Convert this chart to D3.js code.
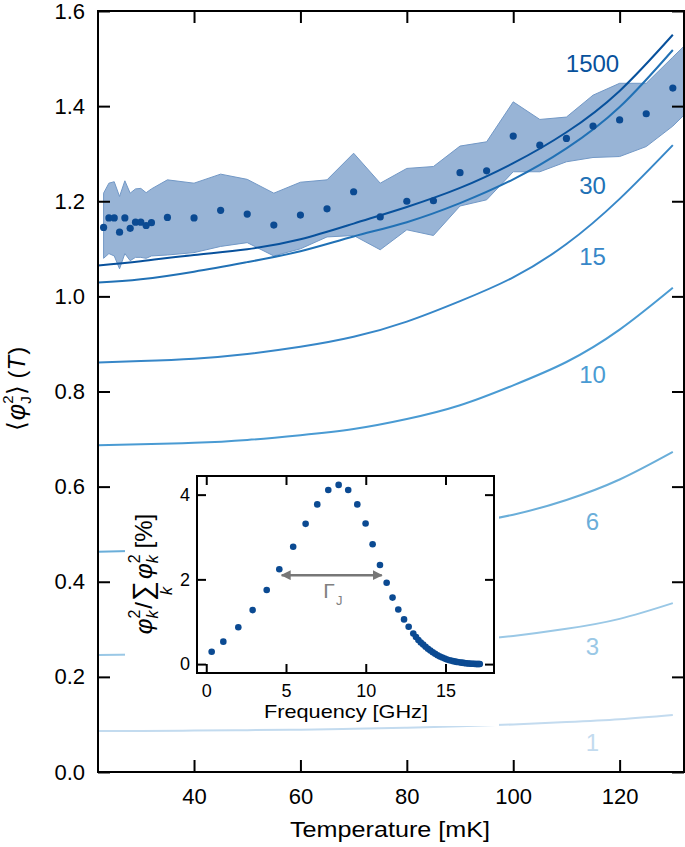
<!DOCTYPE html>
<html><head><meta charset="utf-8">
<script src="https://cdn.jsdelivr.net/npm/d3@7"></script>
<style>
body{margin:0;background:#fff}
text{font-family:"Liberation Sans",Arial,Helvetica,sans-serif}
</style>
</head><body>
<svg id="c" width="685" height="847"></svg>
<script>
// ---------- data ----------
const curveT = [22,30,40,50,60,70,80,90,100,110,120,130];
const curve1500 = [1.065,1.074,1.087,1.099,1.12,1.153,1.188,1.228,1.28,1.345,1.432,1.55];
const curve30   = [1.029,1.036,1.052,1.072,1.095,1.126,1.156,1.196,1.246,1.311,1.398,1.518];
const curve15   = [0.861,0.864,0.869,0.879,0.894,0.915,0.947,0.99,1.04,1.11,1.205,1.318];
const curve10   = [0.687,0.689,0.692,0.698,0.708,0.721,0.742,0.771,0.813,0.862,0.93,1.018];
const curve6    = [0.463,0.465,0.468,0.473,0.48,0.49,0.504,0.521,0.541,0.572,0.615,0.673];
const curve3    = [0.246,0.247,0.249,0.252,0.256,0.261,0.267,0.275,0.286,0.301,0.322,0.355];
const curve1    = [0.086,0.086,0.087,0.088,0.089,0.091,0.093,0.096,0.1,0.105,0.111,0.12];
const curveNames = ["1500","30","15","10","6","3","1"];
const curveLabelVal = [1.489,1.234,1.083,0.835,0.526,0.263,0.063];
const curveLabelT = 114.9;

const dataT = [23,24,25,26,27,28,29,30,31,32,35,40,45,50,55,60,65,70,75,80,85,90,95,100,105,110,115,120,125,130];
const dataMean = [1.145,1.165,1.165,1.135,1.165,1.143,1.156,1.156,1.149,1.155,1.166,1.165,1.181,1.173,1.150,1.171,1.184,1.220,1.167,1.200,1.201,1.260,1.264,1.337,1.318,1.332,1.358,1.371,1.384,1.438];
const bandT = [23,24,25,26,27,28,29,30,31,32,35,40,45,50,55,60,65,70,75,80,85,90,95,100,105,110,115,120,125,130,132];
const bandUpper = [1.217,1.238,1.241,1.21,1.243,1.217,1.226,1.227,1.218,1.226,1.245,1.238,1.257,1.246,1.217,1.240,1.245,1.301,1.238,1.269,1.273,1.316,1.325,1.409,1.372,1.377,1.423,1.448,1.448,1.503,1.525];
const bandLower = [1.08,1.09,1.085,1.058,1.09,1.075,1.082,1.082,1.08,1.085,1.087,1.092,1.105,1.113,1.085,1.1,1.125,1.128,1.098,1.14,1.128,1.19,1.203,1.262,1.262,1.283,1.292,1.294,1.315,1.358,1.38];

const xTicks = [40,60,80,100,120];
const yTicks = [0,0.2,0.4,0.6,0.8,1.0,1.2,1.4,1.6];

const insetFreq = [0.34,1.07,2.01,2.91,3.79,4.58,5.45,6.23,6.96,7.65,8.30,8.90,9.47,9.99,10.43,10.89,11.31,11.68,12.04,12.4,12.69,12.98,
  13.15,13.3,13.45,13.6,13.75,13.9,14.05,14.2,14.35,14.5,14.65,14.8,14.95,15.1,15.25,15.4,15.55,15.7,15.85,16.0,16.1,16.2,16.3,16.4,16.5,16.6,16.7,16.8,16.9,16.95,17.0,17.05,17.1,17.15];
const insetVal = [0.29,0.53,0.87,1.275,1.75,2.24,2.77,3.31,3.77,4.11,4.23,4.11,3.77,3.32,2.83,2.34,1.92,1.57,1.29,1.055,0.88,0.72,
  0.64,0.57,0.51,0.46,0.41,0.36,0.32,0.28,0.245,0.21,0.18,0.155,0.13,0.11,0.092,0.077,0.064,0.052,0.042,0.034,0.029,0.024,0.02,0.016,0.013,0.01,0.008,0.006,0.004,0.003,0.002,0.002,0.001,0.001];
const insetXTicks = [0,5,10,15];
const insetYTicks = [0,2,4];
const gammaSpan = [4.73, 11.0];
const gammaLevel = 2.1;

// ---------- setup ----------
const svg = d3.select("#c");
const FONT = '"Liberation Sans",Arial,Helvetica,sans-serif';
const x = d3.scaleLinear().domain([21.95,132.1]).range([98,684]);
const y = d3.scaleLinear().domain([0,1.6]).range([772,11]);
const colors = ["#08519c","#2171b5","#3787c8","#4a9bd3","#6aaed9","#9ac8e6","#c3dbef"];
const curves = [curve1500,curve30,curve15,curve10,curve6,curve3,curve1];

const defs = svg.append("defs");
defs.append("clipPath").attr("id","clip")
  .append("rect").attr("x",x.range()[0]).attr("y",y.range()[1])
  .attr("width",x.range()[1]-x.range()[0]).attr("height",y.range()[0]-y.range()[1]);

const plot = svg.append("g").attr("clip-path","url(#clip)");

// band
const area = d3.area().x((d,i)=>x(bandT[i])).y0((d,i)=>y(bandLower[i])).y1((d,i)=>y(bandUpper[i]));
plot.append("path").datum(bandT).attr("d",area)
  .attr("fill","#98b4d6").attr("stroke","#7298c6").attr("stroke-width",1);

// curves
const line = d3.line().x((d,i)=>x(curveT[i])).y(d=>y(d)).curve(d3.curveNatural);
curves.slice().reverse().forEach((c,ri)=>{
  const i = curves.length-1-ri;
  plot.append("path").datum(c).attr("d",line).attr("fill","none")
    .attr("stroke",colors[i]).attr("stroke-width",2);
});

// dots
plot.selectAll("circle.m").data(dataT).join("circle").attr("class","m")
  .attr("cx",d=>x(d)).attr("cy",(d,i)=>y(dataMean[i])).attr("r",3.6).attr("fill","#0b4a92");

// curve labels
curveNames.forEach((n,i)=>{
  svg.append("text").attr("x",x(curveLabelT)).attr("y",y(curveLabelVal[i]))
    .attr("text-anchor","middle").attr("dominant-baseline","central")
    .attr("font-size",24).attr("fill",colors[i]).text(n);
});

// axes
function styleAxis(g, fs){
  g.attr("font-family",FONT).attr("font-size",fs);
  g.select(".domain").remove();
  g.selectAll("line").attr("stroke","#000").attr("stroke-width",2);
  g.selectAll("text").attr("fill","#000");
}
const gx = svg.append("g").attr("transform",`translate(0,${y(0)})`)
  .call(d3.axisBottom(x).tickValues(xTicks).tickSizeInner(-12).tickSizeOuter(0).tickPadding(16).tickFormat(d3.format("d")));
styleAxis(gx,22);
const gxt = svg.append("g").attr("transform",`translate(0,${y(1.6)})`)
  .call(d3.axisTop(x).tickValues(xTicks).tickSizeInner(-12).tickSizeOuter(0).tickFormat(""));
styleAxis(gxt,22);
const gy = svg.append("g").attr("transform",`translate(${x.range()[0]},0)`)
  .call(d3.axisLeft(y).tickValues(yTicks).tickSizeInner(-12).tickSizeOuter(0).tickPadding(13).tickFormat(d3.format(".1f")));
styleAxis(gy,22);
const gyr = svg.append("g").attr("transform",`translate(${x.range()[1]},0)`)
  .call(d3.axisRight(y).tickValues(yTicks).tickSizeInner(-12).tickSizeOuter(0).tickFormat(""));
styleAxis(gyr,22);
svg.append("rect").attr("x",x.range()[0]).attr("y",y.range()[1])
  .attr("width",x.range()[1]-x.range()[0]).attr("height",y.range()[0]-y.range()[1])
  .attr("fill","none").attr("stroke","#000").attr("stroke-width",2);

svg.append("text").attr("x",390).attr("y",837).attr("text-anchor","middle")
  .attr("font-size",22).attr("textLength",200).attr("lengthAdjust","spacingAndGlyphs").text("Temperature [mK]");

// rich text helper
function richText(parent, tx, ty, rot, pieces, fill){
  const g = parent.append("g").attr("transform",`translate(${tx},${ty}) rotate(${rot})`);
  const inner = g.append("g");
  let cx = 0, prevStart = 0, prevW = 0;
  pieces.forEach(p=>{
    const el = inner.append("text").text(p.t).attr("font-size",p.size)
      .attr("font-style",p.italic?"italic":"normal").attr("y",p.dy||0).attr("fill",fill||"#000");
    if(p.family) el.attr("font-family",p.family);
    const w = el.node().getComputedTextLength();
    let px;
    if(p.stack){ px = prevStart; cx = Math.max(cx, prevStart + w); }
    else if(p.under){ px = prevStart + (prevW - w)/2; }
    else { px = cx + (p.gap||0); prevStart = px; prevW = w; cx = px + w; }
    el.attr("x",px);
  });
  inner.attr("transform",`translate(${-cx/2},0)`);
  return g;
}

// main y label
richText(svg, 25, 389, -90, [
  {t:"\u27E8",size:25,family:"DejaVu Sans"},
  {t:"\u03C6",size:25,italic:true,gap:1},
  {t:"J",size:15,dy:6},
  {t:"2",size:15,dy:-12,stack:true},
  {t:"\u27E9",size:25,family:"DejaVu Sans",gap:1},
  {t:"(",size:24,gap:6},
  {t:"T",size:24,italic:true},
  {t:")",size:24,gap:1}
]);

// ---------- inset ----------
svg.append("rect").attr("x",125).attr("y",468).attr("width",374).attr("height",258).attr("fill","#fff");
const xi = d3.scaleLinear().domain([-0.58,18.04]).range([197,494]);
const yi = d3.scaleLinear().domain([-0.21,4.44]).range([673,476]);

svg.selectAll("circle.i").data(insetFreq).join("circle").attr("class","i")
  .attr("cx",d=>xi(d)).attr("cy",(d,i)=>yi(insetVal[i])).attr("r",3.3).attr("fill","#0b4a92");

const gix = svg.append("g").attr("transform",`translate(0,${yi.range()[0]})`)
  .call(d3.axisBottom(xi).tickValues(insetXTicks).tickSizeInner(-9).tickSizeOuter(0).tickPadding(11).tickFormat(d3.format("d")));
styleAxis(gix,18);
const gixt = svg.append("g").attr("transform",`translate(0,${yi.range()[1]})`)
  .call(d3.axisTop(xi).tickValues(insetXTicks).tickSizeInner(-9).tickSizeOuter(0).tickFormat(""));
styleAxis(gixt,18);
const giy = svg.append("g").attr("transform",`translate(${xi.range()[0]},0)`)
  .call(d3.axisLeft(yi).tickValues(insetYTicks).tickSizeInner(-9).tickSizeOuter(0).tickPadding(7).tickFormat(d3.format("d")));
styleAxis(giy,18);
const giyr = svg.append("g").attr("transform",`translate(${xi.range()[1]},0)`)
  .call(d3.axisRight(yi).tickValues(insetYTicks).tickSizeInner(-9).tickSizeOuter(0).tickFormat(""));
styleAxis(giyr,18);
svg.append("rect").attr("x",xi.range()[0]).attr("y",yi.range()[1])
  .attr("width",xi.range()[1]-xi.range()[0]).attr("height",yi.range()[0]-yi.range()[1])
  .attr("fill","none").attr("stroke","#000").attr("stroke-width",2);

svg.append("text").attr("x",346).attr("y",718).attr("text-anchor","middle")
  .attr("font-size",19).attr("textLength",164).attr("lengthAdjust","spacingAndGlyphs").text("Frequency [GHz]");

// gamma arrow
defs.append("marker").attr("id","ah").attr("viewBox","0 0 10 10").attr("refX",9).attr("refY",5)
  .attr("markerWidth",4).attr("markerHeight",4).attr("orient","auto-start-reverse")
  .append("path").attr("d","M0,0 L10,5 L0,10 z").attr("fill","#777");
svg.append("line").attr("x1",xi(gammaSpan[0])).attr("x2",xi(gammaSpan[1]))
  .attr("y1",yi(gammaLevel)).attr("y2",yi(gammaLevel))
  .attr("stroke","#777").attr("stroke-width",2.5)
  .attr("marker-start","url(#ah)").attr("marker-end","url(#ah)");
svg.append("text").attr("x",329).attr("y",598).attr("font-size",21)
  .attr("font-family",'"DejaVu Serif","Liberation Serif",serif').attr("fill","#808080").attr("text-anchor","middle").text("\u0393");
svg.append("text").attr("x",336).attr("y",605).attr("font-size",13).attr("fill","#808080").text("J");

// inset y label
richText(svg, 152, 574, -90, [
  {t:"\u03C6",size:24,italic:true},
  {t:"k",size:16,italic:true,dy:6},
  {t:"2",size:16,dy:-12,stack:true},
  {t:"/",size:24,gap:1},
  {t:"\u2211",size:28,family:"DejaVu Sans",gap:1},
  {t:"k",size:16,italic:true,dy:20,under:true},
  {t:"\u03C6",size:24,italic:true,gap:2},
  {t:"k",size:16,italic:true,dy:6},
  {t:"2",size:16,dy:-12,stack:true},
  {t:"[%]",size:24,gap:6}
]);
</script>
</body></html>
